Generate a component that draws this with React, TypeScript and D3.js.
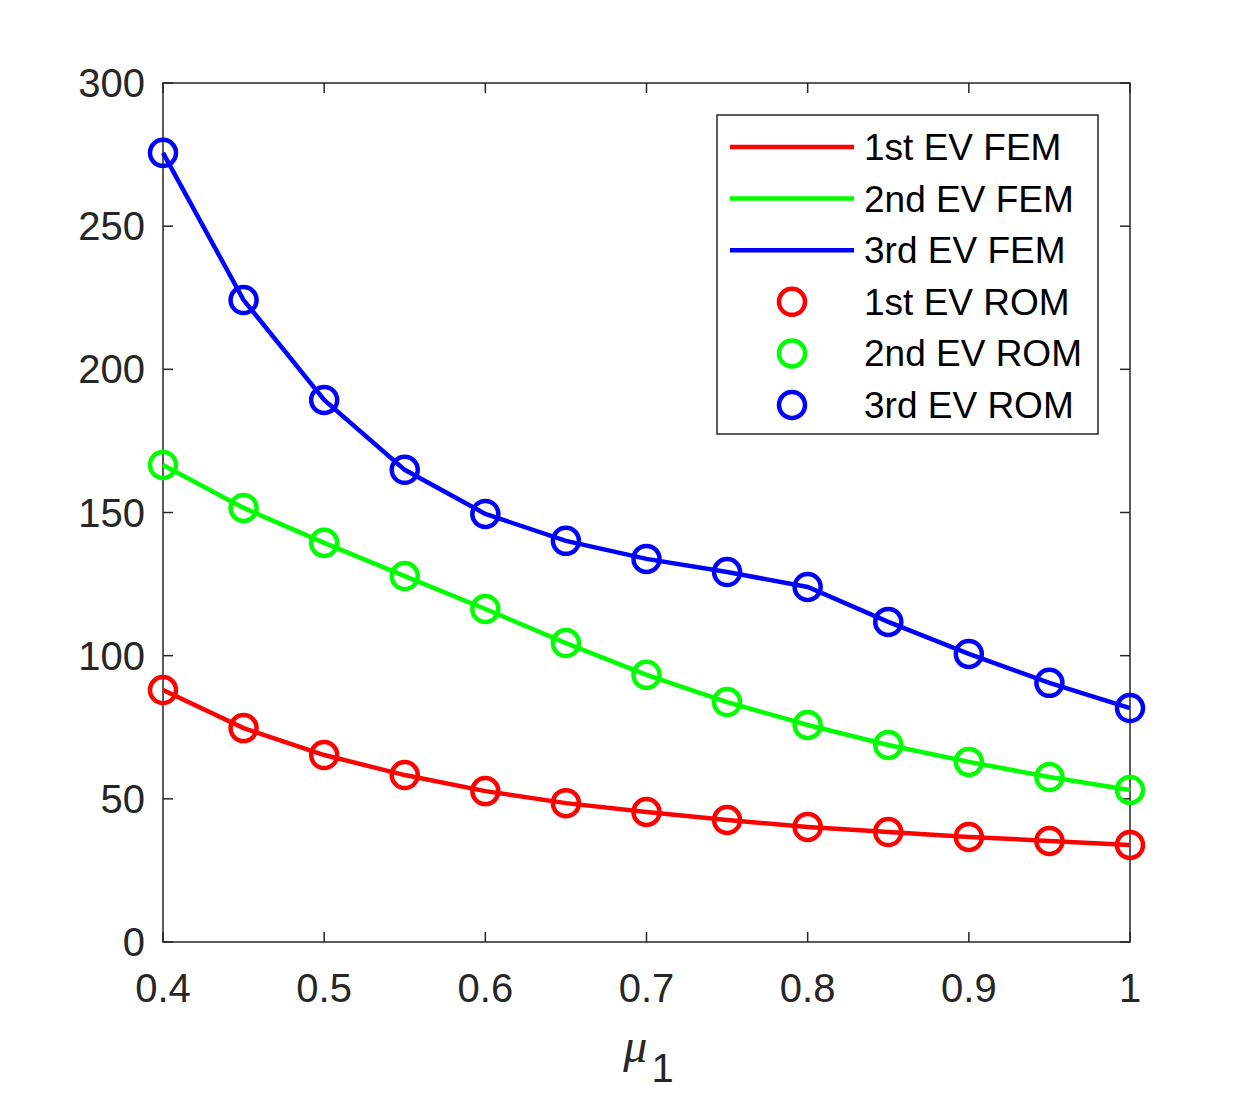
import { useEffect, useRef } from 'react'
import * as d3 from 'd3'

const mu = [0.4, 0.45, 0.5, 0.55, 0.6, 0.65, 0.7, 0.75, 0.8, 0.85, 0.9, 0.95, 1.0]
const ev1 = [88.0, 74.7, 65.3, 58.3, 52.7, 48.5, 45.4, 42.6, 40.2, 38.4, 36.7, 35.3, 33.9]
const ev2 = [166.6, 151.6, 139.4, 127.8, 116.3, 104.4, 93.3, 83.8, 75.8, 68.8, 62.9, 57.6, 53.1]
const ev3 = [275.6, 224.2, 189.3, 164.9, 149.5, 140.1, 133.8, 129.2, 124.0, 111.8, 100.6, 90.5, 81.7]
const seriesColors = ['#ff0000', '#00ff00', '#0000ff']
const legendLabels = ['1st EV FEM', '2nd EV FEM', '3rd EV FEM', '1st EV ROM', '2nd EV ROM', '3rd EV ROM']
const xTicks = [0.4, 0.5, 0.6, 0.7, 0.8, 0.9, 1]
const yTicks = [0, 50, 100, 150, 200, 250, 300]

export default function App() {
  const svgRef = useRef<SVGSVGElement>(null)

  useEffect(() => {
    if (!svgRef.current) return
    const width = 1250
    const height = 1094
    d3.select(svgRef.current).selectAll('*').remove()

    const margin = { top: 83, right: 120, bottom: 152, left: 163 }
    const innerWidth = width - margin.left - margin.right
    const innerHeight = height - margin.top - margin.bottom
    const font = 'Liberation Sans, Arial, Helvetica, sans-serif'
    const axisColor = '#262626'

    const svg = d3.select(svgRef.current)
      .attr('width', width)
      .attr('height', height)
      .attr('viewBox', `0 0 ${width} ${height}`)

    svg.append('rect').attr('width', width).attr('height', height).attr('fill', '#fff')

    const g = svg.append('g').attr('transform', `translate(${margin.left},${margin.top})`)

    const x = d3.scaleLinear().domain([0.4, 1]).range([0, innerWidth])
    const y = d3.scaleLinear().domain([0, 300]).range([innerHeight, 0])

    // Box
    g.append('rect')
      .attr('width', innerWidth)
      .attr('height', innerHeight)
      .attr('fill', 'none')
      .attr('stroke', axisColor)
      .attr('stroke-width', 1.5)

    const tickLen = 10
    // X ticks (inward, bottom and top)
    xTicks.forEach(t => {
      g.append('line').attr('x1', x(t)).attr('x2', x(t)).attr('y1', innerHeight).attr('y2', innerHeight - tickLen)
        .attr('stroke', axisColor).attr('stroke-width', 1.5)
      g.append('line').attr('x1', x(t)).attr('x2', x(t)).attr('y1', 0).attr('y2', tickLen)
        .attr('stroke', axisColor).attr('stroke-width', 1.5)
      g.append('text')
        .attr('x', x(t)).attr('y', innerHeight + 60)
        .attr('text-anchor', 'middle')
        .attr('font-family', font).attr('font-size', 40).attr('fill', axisColor)
        .text(d3.format('~g')(t))
    })

    // Y ticks (inward, left and right)
    yTicks.forEach(t => {
      g.append('line').attr('x1', 0).attr('x2', tickLen).attr('y1', y(t)).attr('y2', y(t))
        .attr('stroke', axisColor).attr('stroke-width', 1.5)
      g.append('line').attr('x1', innerWidth).attr('x2', innerWidth - tickLen).attr('y1', y(t)).attr('y2', y(t))
        .attr('stroke', axisColor).attr('stroke-width', 1.5)
      g.append('text')
        .attr('x', -18).attr('y', y(t) + 14)
        .attr('text-anchor', 'end')
        .attr('font-family', font).attr('font-size', 40).attr('fill', axisColor)
        .text(t)
    })

    // X label
    const label = g.append('text')
      .attr('x', innerWidth / 2 + 2)
      .attr('y', innerHeight + 120)
      .attr('text-anchor', 'middle')
      .attr('font-family', font)
      .attr('fill', axisColor)
    label.append('tspan').attr('font-style', 'italic').attr('font-size', 48)
      .attr('font-family', 'Liberation Serif, Times New Roman, serif').text('μ')
    label.append('tspan').attr('font-size', 40).attr('dy', 20).attr('dx', 4).text('1')

    const series = [ev1, ev2, ev3]
    const line = d3.line<number>().x((_, i) => x(mu[i])).y(d => y(d))

    series.forEach((vals, k) => {
      g.append('path')
        .datum(vals)
        .attr('d', line)
        .attr('fill', 'none')
        .attr('stroke', seriesColors[k])
        .attr('stroke-width', 4.5)
    })
    series.forEach((vals, k) => {
      g.selectAll(`.m${k}`)
        .data(vals)
        .enter().append('circle')
        .attr('cx', (_, i) => x(mu[i]))
        .attr('cy', d => y(d))
        .attr('r', 13)
        .attr('fill', 'none')
        .attr('stroke', seriesColors[k])
        .attr('stroke-width', 4.5)
    })

    // Legend
    const lg = svg.append('g').attr('transform', 'translate(717,115)')
    lg.append('rect')
      .attr('width', 381).attr('height', 319)
      .attr('fill', '#fff').attr('stroke', axisColor).attr('stroke-width', 1.5)
    legendLabels.forEach((name, i) => {
      const cy = 32 + i * 51.6
      const c = seriesColors[i % 3]
      if (i < 3) {
        lg.append('line').attr('x1', 13).attr('x2', 137).attr('y1', cy).attr('y2', cy)
          .attr('stroke', c).attr('stroke-width', 4.5)
      } else {
        lg.append('circle').attr('cx', 75).attr('cy', cy).attr('r', 13)
          .attr('fill', 'none').attr('stroke', c).attr('stroke-width', 4.5)
      }
      lg.append('text')
        .attr('x', 147).attr('y', cy + 13)
        .attr('font-family', font).attr('font-size', 37).attr('fill', '#000')
        .text(name)
    })
  }, [])

  return (
    <div style={{ position: 'absolute', left: 0, top: 0 }}>
      <svg ref={svgRef} />
    </div>
  )
}
